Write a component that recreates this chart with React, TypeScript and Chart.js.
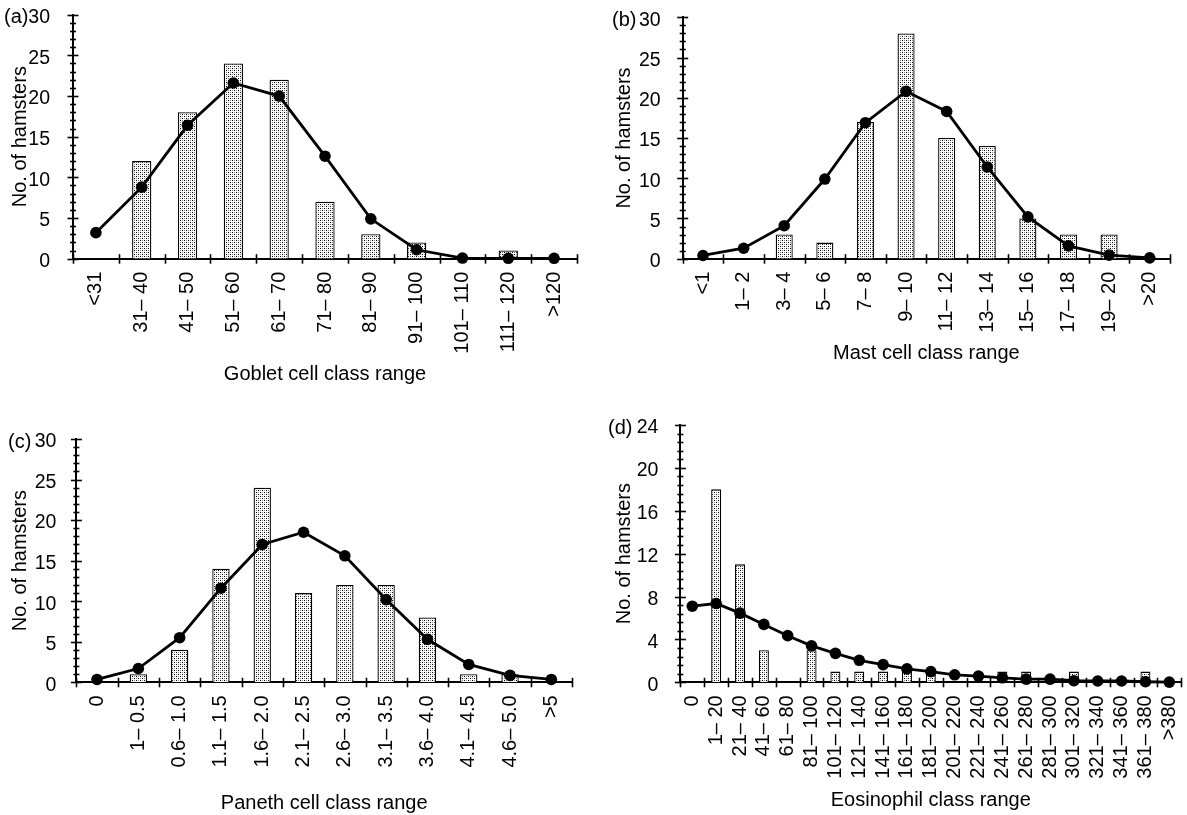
import React, { useEffect, useRef } from "react";
import { Chart, registerables } from "chart.js";

Chart.register(...registerables);

const FONT = "'Liberation Sans', Arial, Helvetica, sans-serif";

// ---------- data ----------
const gobletLabels = ["<31", "31– 40", "41– 50", "51– 60", "61– 70", "71– 80", "81– 90", "91– 100", "101– 110", "111– 120", ">120"];
const gobletCounts = [0, 12, 18, 24, 22, 7, 3, 2, 0, 1, 0];
const gobletFit = [3.2, 8.8, 16.4, 21.6, 20.0, 12.6, 4.9, 1.1, 0.08, 0.05, 0.05];

const mastLabels = ["<1", "1– 2", "3– 4", "5– 6", "7– 8", "9– 10", "11– 12", "13– 14", "15– 16", "17– 18", "19– 20", ">20"];
const mastCounts = [0, 0, 3, 2, 17, 28, 15, 14, 5, 3, 3, 0];
const mastFit = [0.4, 1.3, 4.1, 9.9, 16.9, 20.8, 18.3, 11.4, 5.2, 1.6, 0.45, 0.1];

const panethLabels = ["0", "1– 0.5", "0.6– 1.0", "1.1– 1.5", "1.6– 2.0", "2.1– 2.5", "2.6– 3.0", "3.1– 3.5", "3.6– 4.0", "4.1– 4.5", "4.6– 5.0", ">5"];
const panethCounts = [0, 1, 4, 14, 24, 11, 12, 12, 8, 1, 1, 0];
const panethFit = [0.35, 1.7, 5.5, 11.6, 17.0, 18.5, 15.6, 10.2, 5.3, 2.2, 0.85, 0.35];

const eosLabels = ["0", "1– 20", "21– 40", "41– 60", "61– 80", "81– 100", "101– 120", "121– 140", "141– 160", "161– 180", "181– 200", "201– 220", "221– 240", "241– 260", "261– 280", "281– 300", "301– 320", "321– 340", "341– 360", "361– 380", ">380"];
const eosCounts = [0, 18, 11, 3, 0, 3, 1, 1, 1, 1, 1, 0, 0, 1, 1, 0, 1, 0, 0, 1, 0];
const eosFit = [7.1, 7.35, 6.45, 5.4, 4.35, 3.4, 2.7, 2.05, 1.65, 1.25, 1.0, 0.7, 0.58, 0.42, 0.3, 0.3, 0.15, 0.12, 0.12, 0.05, 0.02];

const yTitle = "No. of hamsters";

// ---------- layout (positions only) ----------
type Panel = {
  letter: string;
  xTitle: string;
  labels: string[];
  counts: number[];
  fit: number[];
  yMax: number;
  yStep: number;
  minorStep: number;
  left: number; top: number; W: number; H: number;
  L: number; R: number; T: number; B: number;
  letterX: number;
  yLabelPad: number;
  yTitlePad: number;
  xTitlePad: number;
};

const panels: Panel[] = [
  {
    letter: "(a)", xTitle: "Goblet cell class range",
    labels: gobletLabels, counts: gobletCounts, fit: gobletFit,
    yMax: 30, yStep: 5, minorStep: 1,
    left: 0, top: 0, W: 590, H: 400,
    L: 73, R: 577, T: 14.7, B: 258.7,
    letterX: 4, yLabelPad: 23, yTitlePad: 8, xTitlePad: 14,
  },
  {
    letter: "(b)", xTitle: "Mast cell class range",
    labels: mastLabels, counts: mastCounts, fit: mastFit,
    yMax: 30, yStep: 5, minorStep: 1,
    left: 590, top: 0, W: 597, H: 400,
    L: 92.7, R: 580, T: 17.3, B: 258.7,
    letterX: 22, yLabelPad: 22, yTitlePad: 22, xTitlePad: 35,
  },
  {
    letter: "(c)", xTitle: "Paneth cell class range",
    labels: panethLabels, counts: panethCounts, fit: panethFit,
    yMax: 30, yStep: 5, minorStep: 1,
    left: 0, top: 400, W: 590, H: 415,
    L: 76.4, R: 572, T: 39, B: 282.3,
    letterX: 8, yLabelPad: 20, yTitlePad: 8, xTitlePad: 0,
  },
  {
    letter: "(d)", xTitle: "Eosinophil class range",
    labels: eosLabels, counts: eosCounts, fit: eosFit,
    yMax: 24, yStep: 4, minorStep: 0.8,
    left: 590, top: 400, W: 597, H: 415,
    L: 90.4, R: 591.8, T: 25, B: 282.3,
    letterX: 18, yLabelPad: 22, yTitlePad: 22, xTitlePad: 3,
  },
];

function makePattern(): CanvasPattern | string {
  const c = document.createElement("canvas");
  c.width = 4;
  c.height = 4;
  const g = c.getContext("2d");
  if (!g) return "#ccc";
  g.fillStyle = "#ffffff";
  g.fillRect(0, 0, 4, 4);
  g.fillStyle = "#000000";
  g.fillRect(0, 0, 1, 1);
  g.fillRect(2, 2, 1, 1);
  g.fillStyle = "#8a8a8a";
  g.fillRect(2, 0, 1, 1);
  g.fillRect(0, 2, 1, 1);
  return g.createPattern(c, "repeat") || "#ccc";
}

const axisTicksPlugin = {
  id: "axisTicks",
  afterDatasetsDraw(chart: any, _args: any, opts: any) {
    const ctx = chart.ctx as CanvasRenderingContext2D;
    const xs = chart.scales.x;
    const ys = chart.scales.y;
    const { left, bottom } = chart.chartArea;
    ctx.save();
    ctx.strokeStyle = "#000";
    ctx.lineWidth = 1.6;
    const nMinor = Math.round(ys.max / opts.minor);
    const ratio = Math.round(opts.major / opts.minor);
    for (let k = 0; k <= nMinor; k++) {
      const v = k * opts.minor;
      const p = Math.round(ys.getPixelForValue(v)) + 0.5;
      const major = k % ratio === 0;
      const len = major ? 5.5 : 3;
      ctx.beginPath();
      ctx.moveTo(left - len, p);
      ctx.lineTo(left + len, p);
      ctx.stroke();
    }
    const n = xs.ticks.length;
    for (let i = 0; i <= n; i++) {
      const p = Math.round(xs.getPixelForValue(i - 0.5)) + 0.5;
      ctx.beginPath();
      ctx.moveTo(p, bottom - 4.5);
      ctx.lineTo(p, bottom + 5);
      ctx.stroke();
    }
    ctx.fillStyle = "#000";
    ctx.font = `20px ${FONT}`;
    ctx.textAlign = "left";
    ctx.textBaseline = "middle";
    ctx.fillText(opts.letter, opts.letterX, ys.getPixelForValue(ys.max) + 3);
    ctx.restore();
  },
};

function PanelChart({ p }: { p: Panel }) {
  const ref = useRef<HTMLCanvasElement | null>(null);
  useEffect(() => {
    if (!ref.current) return;
    const pattern = makePattern();
    const chart = new Chart(ref.current, {
      type: "bar",
      data: {
        labels: p.labels,
        datasets: [
          {
            type: "line" as const,
            data: p.fit,
            borderColor: "#000",
            borderWidth: 2.8,
            pointRadius: 5.8,
            pointBackgroundColor: "#000",
            pointBorderColor: "#000",
            pointBorderWidth: 0,
            tension: 0,
            order: 1,
            clip: false as any,
          },
          {
            type: "bar" as const,
            data: p.counts,
            backgroundColor: pattern as any,
            borderColor: "#000",
            borderWidth: 1.3,
            categoryPercentage: 1,
            barPercentage: 0.42,
            order: 2,
          },
        ],
      },
      options: {
        responsive: false,
        animation: false,
        events: [],
        layout: { padding: { left: 0, top: p.T, right: p.W - p.R, bottom: 0 } },
        plugins: {
          legend: { display: false },
          tooltip: { enabled: false },
          axisTicks: { minor: p.minorStep, major: p.yStep, letter: p.letter, letterX: p.letterX },
        } as any,
        scales: {
          x: {
            type: "category",
            offset: true,
            grid: { display: false, drawTicks: false },
            border: { display: true, color: "#000", width: 2 },
            ticks: {
              autoSkip: false,
              minRotation: 90,
              maxRotation: 90,
              padding: 13,
              color: "#000",
              font: { family: FONT, size: 20 },
            },
            title: {
              display: true,
              text: p.xTitle,
              color: "#000",
              font: { family: FONT, size: 20, lineHeight: 1.2 },
              padding: { top: 0, bottom: p.xTitlePad },
            },
            afterFit: (s: any) => {
              s.height = p.H - p.B;
              s.paddingLeft = 0;
              s.paddingRight = 0;
            },
          },
          y: {
            min: 0,
            max: p.yMax,
            grid: { display: false, drawTicks: false },
            border: { display: true, color: "#000", width: 2 },
            ticks: {
              stepSize: p.yStep,
              padding: p.yLabelPad,
              labelOffset: 3,
              color: "#000",
              font: { family: FONT, size: 19.5 },
            },
            title: {
              display: true,
              text: yTitle,
              color: "#000",
              font: { family: FONT, size: 20, lineHeight: 1.2 },
              padding: { top: p.yTitlePad, bottom: 0 },
            },
            afterFit: (s: any) => {
              s.width = p.L;
              s.paddingTop = 0;
              s.paddingBottom = 0;
            },
          },
        },
      },
      plugins: [axisTicksPlugin as any],
    });
    return () => chart.destroy();
  }, [p]);
  return (
    <canvas
      ref={ref}
      width={p.W}
      height={p.H}
      style={{ position: "absolute", left: p.left, top: p.top, width: p.W, height: p.H }}
    />
  );
}

export default function App() {
  return (
    <div style={{ position: "absolute", left: 0, top: 0, width: 1187, height: 815, background: "#fff", overflow: "hidden" }}>
      {panels.map((p) => (
        <PanelChart key={p.letter} p={p} />
      ))}
    </div>
  );
}
